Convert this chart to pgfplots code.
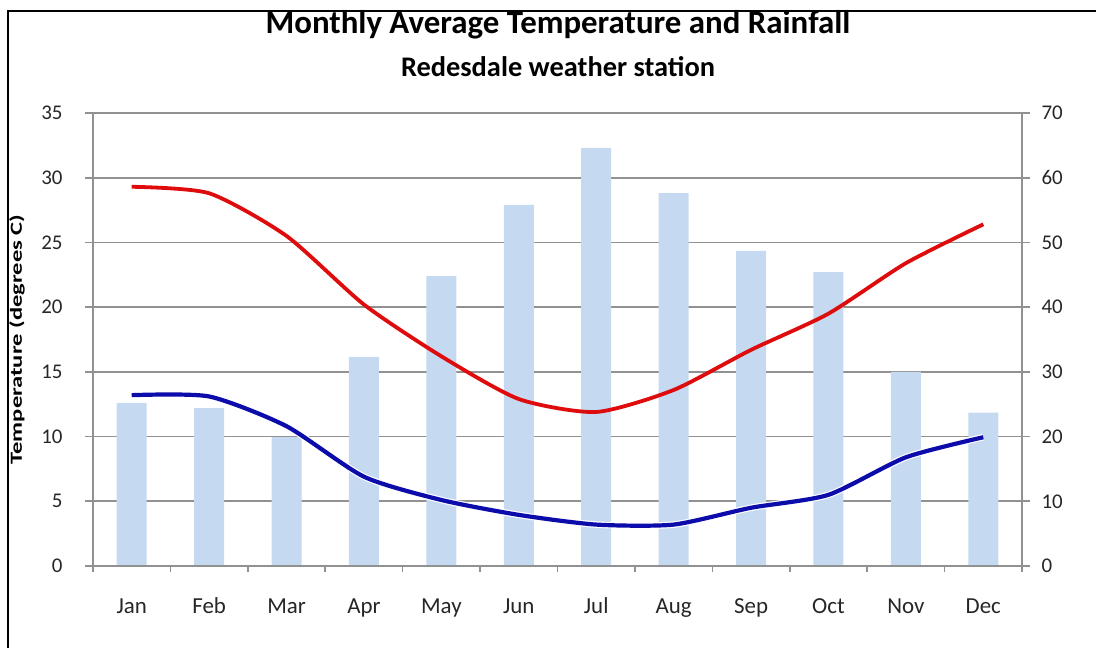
\documentclass[border=0pt]{standalone}
\usepackage{fontspec}
\setmainfont{Carlito}
\usepackage{pgfplots}
\pgfplotsset{compat=1.18}
\definecolor{barblue}{RGB}{197,217,241}
\definecolor{gridgray}{RGB}{145,145,145}
\definecolor{maxred}{RGB}{222,12,12}
\definecolor{minblue}{RGB}{12,12,170}

\pgfplotstableread{
m rain tmax tmin
0 25.2 29.3 13.2
1 24.4 28.8 13.1
2 19.9 25.5 10.8
3 32.3 20.2 6.9
4 44.8 16.2 5.1
5 55.8 12.9 3.95
6 64.6 11.9 3.2
7 57.6 13.6 3.2
8 48.7 16.7 4.5
9 45.4 19.5 5.5
10 30.0 23.4 8.4
11 23.7 26.4 9.95
}\datatable

\begin{document}
\begin{tikzpicture}[x=1bp,y=1bp]
\path[use as bounding box] (0,0) rectangle (1096,-648);
\draw[black, line width=2bp] (8,-660) -- (8,-11) -- (1110,-11);
\node[font=\bfseries\fontsize{33}{36}\selectfont] at (558,-25) {Monthly Average Temperature and Rainfall};
\node[font=\bfseries\fontsize{28.5}{31}\selectfont] at (558,-67) {Redesdale weather station};
\node[rotate=90, anchor=north, font=\bfseries\fontsize{18}{20}\selectfont] at (1093,-340) {\scalebox{1.55}[1]{Rainfall (mm)}};

\begin{axis}[
  at={(93bp,-566bp)}, anchor=south west, scale only axis,
  width=929bp, height=453bp,
  xmin=-0.5, xmax=11.5, ymin=0, ymax=70,
  hide x axis,
  ytick={0,10,...,70},
  ytick pos=right, yticklabel pos=right,
  ymajorgrids,
  grid style={gridgray, line width=1.6bp},
  axis line style={gridgray, line width=1.6bp},
  major tick style={gridgray, line width=1.6bp},
  tick align=outside, major tick length=8bp,
  /pgf/number format/assume math mode=true,
  yticklabel style={font=\fontsize{21}{24}\selectfont, text=black!85, xshift=8bp},
]
\addplot[ybar, bar width=30bp, fill=barblue, draw=none] table[x=m, y=rain] {\datatable};
\end{axis}

\begin{axis}[
  at={(93bp,-566bp)}, anchor=south west, scale only axis,
  width=929bp, height=453bp,
  xmin=-0.5, xmax=11.5, ymin=0, ymax=35,
  ytick={0,5,...,35},
  ytick pos=left,
  xtick={0,...,11},
  xticklabels={Jan,Feb,Mar,Apr,May,Jun,Jul,Aug,Sep,Oct,Nov,Dec},
  xtick pos=bottom,
  minor xtick={-0.5,0.5,...,11.5},
  axis line style={gridgray, line width=1.6bp},
  major tick style={gridgray, line width=1.6bp},
  minor tick style={gridgray, line width=1.6bp},
  tick align=outside, major tick length=8bp, minor tick length=6bp,
  x tick style={draw=none},
  minor x tick style={draw=gridgray},
  /pgf/number format/assume math mode=true,
  yticklabel style={font=\fontsize{21}{24}\selectfont, text=black!85, xshift=-19bp},
  xticklabel style={font=\fontsize{23}{26}\selectfont, text=black!85, text height=16bp, text depth=5bp, yshift=-20bp},
  ylabel={\scalebox{1.45}[1]{Temperature (degrees C)}},
  ylabel style={font=\bfseries\fontsize{17}{20}\selectfont, at={(axis description cs:-0.0818,0.5)}, anchor=center},
]
\addplot[maxred, line width=3.8bp, smooth, tension=0.4] table[x=m, y=tmax] {\datatable};
\addplot[white, line width=6.5bp, smooth, tension=0.4] table[x=m, y=tmin] {\datatable};
\addplot[minblue, line width=4.2bp, smooth, tension=0.4] table[x=m, y=tmin] {\datatable};
\end{axis}
\end{tikzpicture}
\end{document}
